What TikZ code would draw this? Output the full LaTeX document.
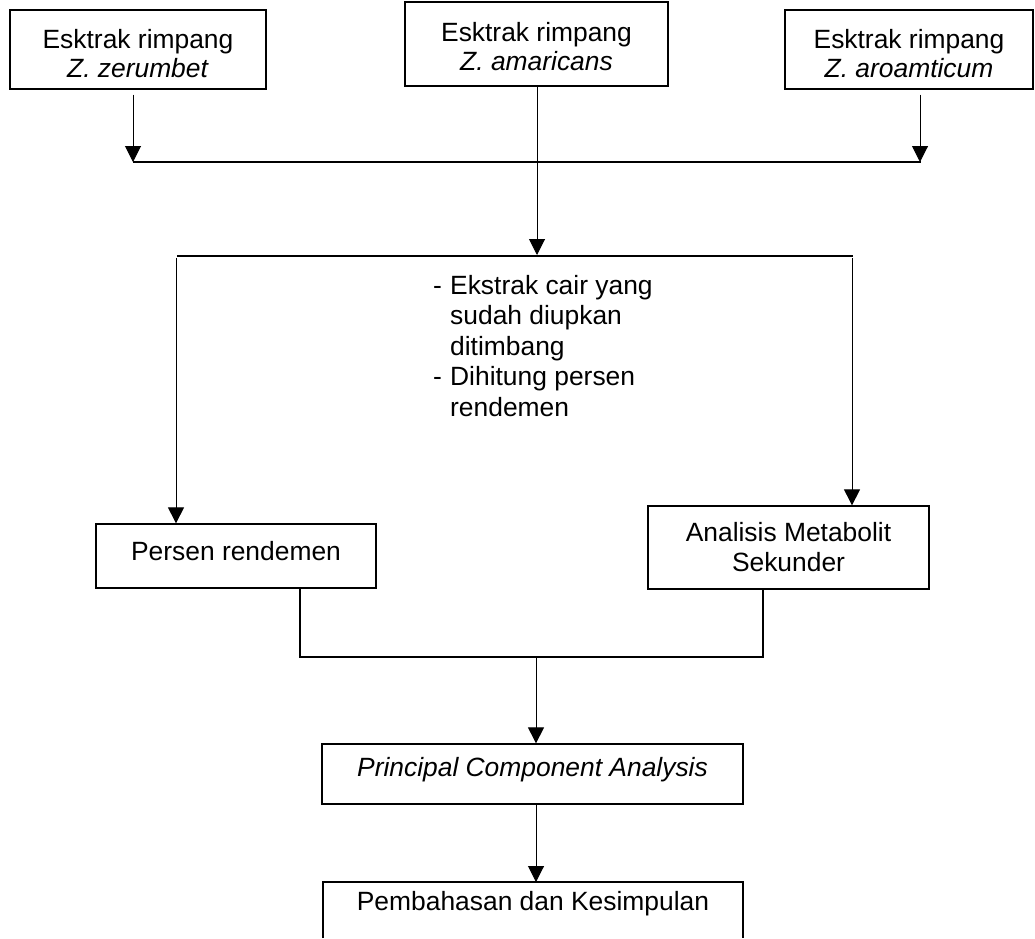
\documentclass[tikz,border=0pt]{standalone}
\usepackage{fontspec}
\setmainfont{Liberation Sans}
\usetikzlibrary{arrows.meta,calc}
\tikzset{
  every node/.append style={font=\fontsize{26.4}{29}\selectfont},
  procbox/.style={draw, line width=1.3pt, inner sep=0pt},
  txt/.style={inner sep=0pt, align=center},
  arr/.style={-{Triangle[length=16pt,width=16pt]}, line width=1pt},
  hline/.style={line width=1.6pt},
  plain/.style={line width=1.3pt}
}
\begin{document}
\begin{tikzpicture}[x=1pt,y=-1pt]
\useasboundingbox[fill=white] (0,0) rectangle (1035,938);

% top boxes
\node[procbox, minimum width=256pt, minimum height=79pt] (b1) at (138,49.5) {};
\node[txt] (t1) at ([yshift=-4pt]b1.center) {Esktrak rimpang\\\textit{Z. zerumbet}};
\node[procbox, minimum width=263pt, minimum height=84pt] (b2) at (536.5,44) {};
\node[txt] (t2) at ([yshift=-3pt]b2.center) {Esktrak rimpang\\\textit{Z. amaricans}};
\node[procbox, minimum width=248pt, minimum height=79pt] (b3) at (909,49.5) {};
\node[txt] (t3) at ([yshift=-4pt]b3.center) {Esktrak rimpang\\\textit{Z. aroamticum}};

% middle boxes
\node[procbox, minimum width=280pt, minimum height=64pt] (pr) at (236,556) {};
\node[txt] (tpr) at ([yshift=4.5pt]pr.center) {Persen rendemen};
\node[procbox, minimum width=281pt, minimum height=83pt] (am) at (788.5,547.5) {};
\node[txt, font=\fontsize{26.4}{30}\selectfont] (tam) at (am.center) {Analisis Metabolit\\Sekunder};

% PCA
\node[procbox, minimum width=421pt, minimum height=60pt] (pca) at (532.5,774) {};
\node[txt] (tpca) at ([yshift=4pt]pca.center) {\textit{Principal Component Analysis}};

% bottom box (cut at the lower edge)
\node[txt] (pk) at (533,903.5) {Pembahasan dan Kesimpulan};
\draw[plain] (323,938) -- (323,882) -- (743,882) -- (743,938);

% annotation text
\node[anchor=north west, align=left, inner sep=0pt, font=\fontsize{26.4}{30.5}\selectfont] (note) at (433,275)
  {\makebox[17pt][l]{-}Ekstrak cair yang\\
   \hspace*{17pt}sudah diupkan\\
   \hspace*{17pt}ditimbang\\
   \makebox[17pt][l]{-}Dihitung persen\\
   \hspace*{17pt}rendemen};

% junction coordinates
\coordinate (j1) at (133,162);
\coordinate (j3) at (920,162);
\coordinate (j2) at (537,255);
\coordinate (hl) at (176,256);
\coordinate (hr) at (852,256);
\coordinate (m1) at (300,657);
\coordinate (m2) at (763,657);
\coordinate (m0) at (536,657);
\coordinate (pt) at (536,882);

% connectors top
\draw[arr] ([yshift=-5pt]b1.south -| j1) -- (j1);
\draw[arr] ([yshift=-5pt]b3.south -| j3) -- (j3);
\draw[hline] (j1) -- ([xshift=1pt]j3);
\draw[arr] (b2.south -| j2) -- (j2);
\draw[hline] ([xshift=1pt]hl) -- ([xshift=1pt]hr);
\draw[arr] ([yshift=-2pt]hl) -- (hl |- pr.north);
\draw[arr] ([yshift=-2pt]hr) -- (hr |- am.north);

% connectors bottom
\draw[plain] (m1 |- pr.south) -- (m1) -- (m2) -- (m2 |- am.south);
\draw[arr] (m0) -- (m0 |- pca.north);
\draw[arr] (pca.south -| pt) -- (pt);
\end{tikzpicture}
\end{document}
